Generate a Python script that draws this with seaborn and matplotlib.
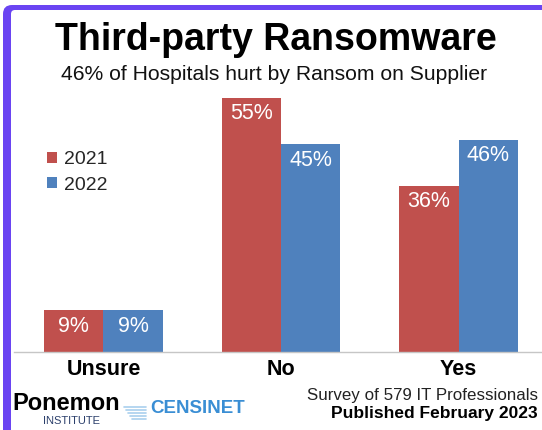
import pandas as pd
import matplotlib
matplotlib.use('Agg')
import matplotlib.pyplot as plt
import seaborn as sns
from matplotlib.patches import FancyBboxPatch
from matplotlib.lines import Line2D
from matplotlib.transforms import IdentityTransform

# data
answers = ['Unsure', 'No', 'Yes']
years = ['2021', '2022']
pct_2021 = [9, 55, 36]
pct_2022 = [9, 45, 46]
colors = ['#c0504d', '#4f81bd']

df = pd.DataFrame({
    'answer': answers * 2,
    'year': [years[0]] * 3 + [years[1]] * 3,
    'pct': pct_2021 + pct_2022,
})

W, H = 542, 430
sns.set_theme(style='white')
plt.rcParams['font.family'] = ['Liberation Sans', 'DejaVu Sans']


def fx(px):
    return px / W


def fy(py):
    # py measured from the top of the picture
    return 1 - py / H


fig = plt.figure(figsize=(W / 100, H / 100), dpi=100)

# purple frame: only the top and left edges show
pix = IdentityTransform()
outer = FancyBboxPatch((3, -60), 640, H - 5 + 60, boxstyle='round,pad=0,rounding_size=9',
                       facecolor='#6a44f2', edgecolor='none', transform=pix, zorder=-3)
inner = FancyBboxPatch((11, -60), 640, H - 10 + 60, boxstyle='round,pad=0,rounding_size=4',
                       facecolor='white', edgecolor='none', transform=pix, zorder=-2)
fig.add_artist(outer)
fig.add_artist(inner)

ax = fig.add_axes([fx(14), 78 / H, (W - 14) / W, 277 / H])
ax.set_facecolor('none')

sns.barplot(data=df, x='answer', y='pct', hue='year', palette=colors,
            width=0.67, gap=0, saturation=1, linewidth=0, errorbar=None, ax=ax)

for c in ax.containers:
    ax.bar_label(c, labels=[f'{v:.0f}%' for v in c.datavalues], padding=-19,
                 color='white', fontsize=15.5)

ax.set_xlim(-0.504, 2.47)
ax.set_ylim(0, 60)
ax.set_yticks([])
ax.set_xlabel('')
ax.set_ylabel('')
for s in ['top', 'right', 'left']:
    ax.spines[s].set_visible(False)
ax.spines['bottom'].set_color('#c6c6c6')
ax.spines['bottom'].set_linewidth(1.0)
ax.tick_params(axis='x', length=0, pad=5, labelsize=15.5, labelcolor='black')
for lbl in ax.get_xticklabels():
    lbl.set_fontweight('bold')

handles, labels = ax.get_legend_handles_labels()
ax.legend(handles, labels, loc='upper left', bbox_to_anchor=(fx(47), fy(151)),
          bbox_transform=fig.transFigure, frameon=False, fontsize=14,
          handlelength=0.5, handleheight=0.5, handletextpad=0.35,
          labelspacing=0.45, borderpad=0, borderaxespad=0)

# titles
fig.text(fx(276), fy(50), 'Third-party Ransomware', ha='center', va='baseline',
         fontsize=27, fontweight='bold', color='black')
fig.text(fx(274), fy(80), '46% of Hospitals hurt by Ransom on Supplier', ha='center',
         va='baseline', fontsize=15.2, color='#111111')

# footer
fig.text(fx(538), fy(400), 'Survey of 579 IT Professionals', ha='right', va='baseline',
         fontsize=12.2, color='#222222')
fig.text(fx(538), fy(418), 'Published February 2023', ha='right', va='baseline',
         fontsize=12.5, fontweight='bold', color='black')

# logos as text
fig.text(fx(12), fy(410), 'Ponemon', ha='left', va='baseline', fontsize=17,
         fontweight='heavy', color='black')
fig.text(fx(72), fy(424), 'INSTITUTE', ha='center', va='baseline', fontsize=8,
         color='#2b3f6b')
for i in range(5):
    fig.add_artist(Line2D([124 + i * 2, 146], [H - 407 - i * 3, H - 407 - i * 3],
                          color='#a9d0ee', lw=1.2, transform=pix))
fig.text(fx(150), fy(413), 'CENSINET', ha='left', va='baseline', fontsize=13.5,
         fontweight='bold', color='#3a8ed4')

fig.savefig('out.png', dpi=100)
